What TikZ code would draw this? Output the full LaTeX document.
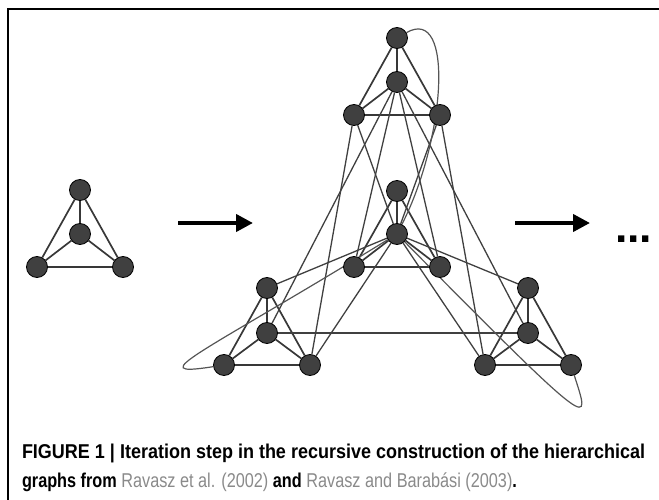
\documentclass[tikz,border=0pt]{standalone}
\usepackage{fontspec}
\setmainfont{Liberation Sans}
\usetikzlibrary{arrows.meta,backgrounds}
\definecolor{nodefill}{HTML}{404040}
\definecolor{edgecol}{HTML}{383838}
\definecolor{linkcol}{HTML}{404040}
\definecolor{loopcol}{HTML}{555555}
\definecolor{citegray}{HTML}{8A8A8A}
\begin{document}
\begin{tikzpicture}[x=1pt,y=-1pt,
  vtx/.style={circle,draw=black,line width=0.8pt,fill=nodefill,minimum size=21pt,inner sep=0pt},
  edge/.style={draw=edgecol,line width=1.7pt},
  link/.style={draw=linkcol,line width=1.3pt},
  loopline/.style={draw=loopcol,line width=1.2pt},
  bigarrow/.style={line width=4pt,-{Triangle[length=17pt,width=17pt]}},
  txt/.style={anchor=base west,inner sep=0pt,outer sep=0pt},
]
\useasboundingbox (0,0) rectangle (659,500);
\draw[line width=1.2pt] (8,500) -- (8,9) -- (659,9);

% small module
\node[vtx] (a1) at (80,190) {};
\node[vtx] (a2) at (80,234) {};
\node[vtx] (a3) at (37,267) {};
\node[vtx] (a4) at (123,267) {};
% top module
\node[vtx] (T1) at (397,38) {};
\node[vtx] (T2) at (397,82) {};
\node[vtx] (T3) at (354,115) {};
\node[vtx] (T4) at (440,115) {};
% centre module
\node[vtx] (C1) at (397,191) {};
\node[vtx] (C2) at (397,234) {};
\node[vtx] (C3) at (354,267) {};
\node[vtx] (C4) at (440,267) {};
% left module
\node[vtx] (L1) at (267,288) {};
\node[vtx] (L2) at (267,333) {};
\node[vtx] (L3) at (224,365) {};
\node[vtx] (L4) at (310,365) {};
% right module
\node[vtx] (R1) at (528,288) {};
\node[vtx] (R2) at (528,333) {};
\node[vtx] (R3) at (485,365) {};
\node[vtx] (R4) at (571,365) {};

\begin{pgfonlayer}{background}
\foreach \m in {a,T,C,L,R}{
  \draw[edge] (\m1)--(\m2) (\m1)--(\m3) (\m1)--(\m4) (\m2)--(\m3) (\m2)--(\m4) (\m3)--(\m4);
}
\draw[link] (T3)--(C2);
\draw[link] (T4)--(C2);
\draw[link] (L1)--(C2);
\draw[link] (L4)--(C2);
\draw[link] (R1)--(C2);
\draw[link] (R3)--(C2);
\draw[link] (L2)--(R2);
\draw[link] (T2)--(L2);
\draw[link] (T2)--(R2);
\draw[link] (T2)--(C3);
\draw[link] (T2)--(C4);
\draw[link] (T3)--(L4);
\draw[link] (T4)--(R3);
\draw[loopline] (T1) .. controls (455,5) and (445,140) .. (C2);
\draw[loopline] (C2) .. controls (200,355) and (140,378) .. (L3);
\draw[loopline] (C2) .. controls (600,440) and (590,425) .. (R4);
\end{pgfonlayer}

% arrows
\coordinate (ar1s) at (178,223);
\coordinate (ar1e) at (253,223);
\coordinate (ar2s) at (515,223);
\coordinate (ar2e) at (590,223);
\draw[bigarrow] (ar1s) -- (ar1e);
\draw[bigarrow] (ar2s) -- (ar2e);

\node[txt] (dots) at (615,242) {\fontsize{44.5}{44.5}\selectfont\bfseries ...};

% caption
\node[txt] (cap1) at (22,458) {\resizebox{623pt}{\height}{\fontsize{20}{24}\selectfont\bfseries FIGURE 1 | Iteration step in the recursive construction of the hierarchical}};
\node[txt] (cap2) at (22,487) {\resizebox{495pt}{\height}{\fontsize{20}{24}\selectfont\bfseries graphs from \textcolor{citegray}{\mdseries Ravasz et al. (2002)} and \textcolor{citegray}{\mdseries Ravasz and Barab\'asi (2003)}.}};
\end{tikzpicture}
\end{document}
